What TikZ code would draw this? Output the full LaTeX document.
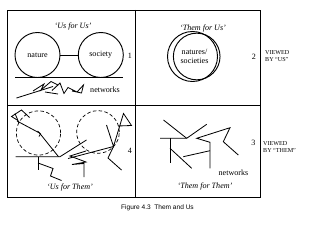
\documentclass[tikz,border=0pt]{standalone}
\usepackage{fontspec}
\setmainfont{Liberation Serif}
\setsansfont{Liberation Sans}
\begin{document}
\begin{tikzpicture}[x=0.03cm,y=-0.03cm,
  frame/.style={line width=0.8pt},
  net/.style={line width=0.7pt, line join=miter},
  lbl/.style={font=\fontsize{6.9}{7.6}\selectfont, inner sep=0pt},
  ttl/.style={font=\fontsize{6.9}{7.6}\selectfont\itshape, inner sep=0pt},
  view/.style={font=\fontsize{5.2}{5.8}\selectfont, inner sep=0pt, align=left, anchor=west},
  ring/.style={circle, draw, line width=0.8pt, inner sep=0pt},
  dring/.style={circle, draw, densely dashed, line width=0.6pt, inner sep=0pt}]
\useasboundingbox (0,0) rectangle (320,228);
% frame
\coordinate (tl) at (7.5,10);
\coordinate (br) at (260,197);
\draw[frame] (tl) rectangle (br);
\coordinate (vt) at (135,10);
\coordinate (vb) at (135,197);
\coordinate (hl) at (7.5,105);
\coordinate (hr) at (260,105);
\draw[frame] (vt) -- (vb);
\draw[frame] (hl) -- (hr);

% panel 1
\node[ttl] (t1) at (73,27) {`Us for Us'};
\node[ring, minimum size=1.35cm, lbl] (nature) at (37.5,55) {nature};
\node[ring, minimum size=1.35cm, lbl] (society) at (100.8,55) {society};
\draw[line width=0.6pt] (nature) -- (society);
\node[lbl] (n1) at (130,56) {1};
\coordinate (g1) at (15,77.3);
\coordinate (g2) at (122.7,77.3);
\draw[line width=0.8pt] (g1) -- (g2);
\draw[net] (16.5,98) -- (53,86.5);
\draw[net] (33,91) -- (44,84) -- (41,90) -- (51,81.5) -- (58,85) -- (52,90.5) -- (60,83) -- (64,93.5) -- (68,87.5) -- (77,92) -- (83.5,85) -- (81.5,93) -- (72,91);
\draw[net] (45,92) -- (58,94);
\node[lbl, anchor=west] (nw1) at (90,90) {networks};

% panel 2
\node[ttl] (t2) at (203,29) {`Them for Us'};
\node[ring, minimum size=1.5cm] (c2a) at (192.5,56.5) {};
\node[ring, minimum size=1.4cm] (c2b) at (196.7,56.5) {};
\node[lbl, align=center] (ns) at (194.5,56.5) {natures/\\societies};
\node[lbl] (n2) at (254,57) {2};
\node[view] (v1) at (265,56) {VIEWED\\BY ``US''};

% panel 4
\node[dring, minimum size=1.33cm] (d1) at (38.5,133) {};
\node[dring, minimum size=1.28cm] (d2) at (98,132) {};
\draw[net] (29.5,117.5) -- (21.5,110) -- (11.5,116.5) -- (18,120.5);
\draw[net] (15,113.5) -- (19,123);
\draw[net] (17,121) -- (39.5,133) -- (58.5,156.7);
\draw[net] (37.5,131) -- (40.5,134) -- (39,136.5);
\draw[net] (15.5,156.7) -- (60,156.7) -- (86.5,140);
\draw[net] (38,156.7) -- (38,170);
\draw[net] (38,163) -- (53,168.5) -- (50.5,176) -- (61.5,180.5);
\draw[net] (68,158.5) -- (113.5,146.5);
\draw[net] (86,151) -- (70,156) -- (86,162) -- (72,164.5) -- (84,163.5) -- (84,177);
\draw[net] (106.5,125) -- (113.5,146.5) -- (120,125) -- (123.5,113.5) -- (131.5,125.5) -- (118,126);
\draw[net] (113.5,146.5) -- (108,158) -- (121.5,170);
\node[lbl] (n4) at (130,151) {4};
\node[ttl] (t4) at (70,188) {`Us for Them'};

% panel 3
\draw[net] (163.5,120) -- (186.7,138.3);
\draw[net] (160,138.3) -- (186.7,138.3) -- (206.7,124.3);
\draw[net] (170,138.3) -- (170,163.3);
\draw[net] (170,148.3) -- (191.7,168.3);
\draw[net] (183.3,156.7) -- (210,150.7);
\draw[net] (210,168.3) -- (210,142.3) -- (196.7,138.3) -- (230,127.7) -- (223.3,141.7) -- (238.3,155);
\node[lbl] (n3) at (253.5,143) {3};
\node[lbl] (nw3) at (233.5,173) {networks};
\node[ttl] (t3) at (205,186.5) {`Them for Them'};
\node[view] (v2) at (263,147) {VIEWED\\BY ``THEM''};

% caption
\node[font=\fontsize{5.6}{6.5}\selectfont\sffamily, inner sep=0pt] (cap) at (157.5,208) {Figure 4.3\ \ Them and Us};
\end{tikzpicture}
\end{document}
